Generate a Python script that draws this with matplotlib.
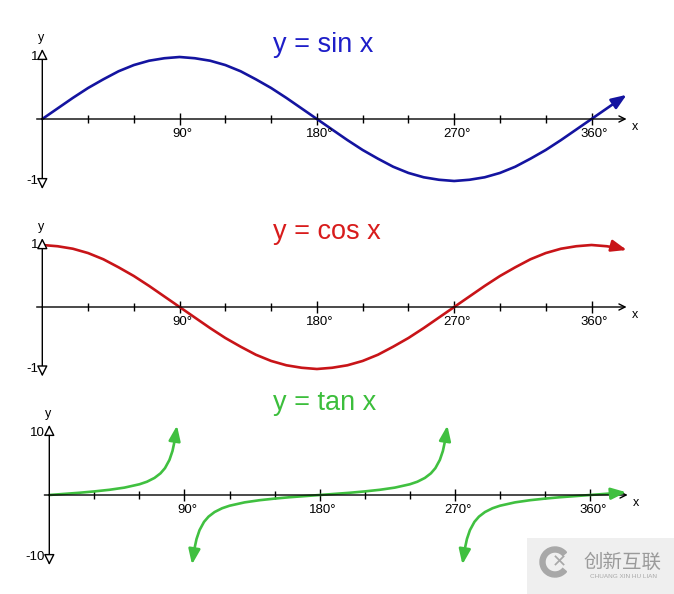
import numpy as np
import matplotlib
matplotlib.use("Agg")
import matplotlib.pyplot as plt
from matplotlib.patches import Wedge

plt.rcParams['font.family'] = ['Liberation Sans', 'DejaVu Sans']

# ---- data ----
deg = [0, 10, 20, 30, 40, 50, 60, 70, 80, 90, 100, 110, 120, 130, 140, 150, 160, 170,
       180, 190, 200, 210, 220, 230, 240, 250, 260, 270, 280, 290, 300, 310, 320, 330,
       340, 350, 360, 370, 380, 383]
sin_vals = [0, .17, .34, .50, .64, .77, .87, .94, .98, 1.0, .98, .94, .87, .77, .64, .50,
            .34, .17, 0, -.17, -.34, -.50, -.64, -.77, -.87, -.94, -.98, -1.0, -.98, -.94,
            -.87, -.77, -.64, -.50, -.34, -.17, 0, .17, .34, .39]
cos_vals = [1.0, .98, .94, .87, .77, .64, .50, .34, .17, 0, -.17, -.34, -.50, -.64, -.77,
            -.87, -.94, -.98, -1.0, -.98, -.94, -.87, -.77, -.64, -.50, -.34, -.17, 0, .17,
            .34, .50, .64, .77, .87, .94, .98, 1.0, .98, .94, .92]

tan1_deg = [0, 10, 20, 30, 40, 50, 60, 65, 70, 74, 77, 80, 82, 83.5, 85]
tan1_val = [0, .18, .36, .58, .84, 1.19, 1.73, 2.14, 2.75, 3.49, 4.33, 5.67, 7.1, 8.8, 11.2]
tan2_deg = [95, 96.5, 98, 100, 103, 106, 110, 115, 120, 130, 140, 150, 160, 170, 180,
            190, 200, 210, 220, 230, 240, 245, 250, 254, 257, 260, 262, 263.5, 265]
tan2_val = [-11.2, -8.8, -7.1, -5.67, -4.33, -3.49, -2.75, -2.14, -1.73, -1.19, -.84, -.58,
            -.36, -.18, 0, .18, .36, .58, .84, 1.19, 1.73, 2.14, 2.75, 3.49, 4.33, 5.67,
            7.1, 8.8, 11.2]
tan3_deg = [275, 276.5, 278, 280, 283, 286, 290, 295, 300, 310, 320, 330, 340, 350, 360,
            370, 380, 384]
tan3_val = [-11.2, -8.8, -7.1, -5.67, -4.33, -3.49, -2.75, -2.14, -1.73, -1.19, -.84, -.58,
            -.36, -.18, 0, .18, .36, .45]

tick_deg = [30, 60, 90, 120, 150, 180, 210, 240, 270, 300, 330, 360]
major_deg = [90, 180, 270, 360]
major_lab = ["90°", "180°", "270°", "360°"]

W, H = 674, 594
fig = plt.figure(figsize=(W / 100, H / 100), dpi=100)
fig.patch.set_facecolor("white")


def panel(x0, sx, y0, sy, top, bottom):
    # x0,y0: pixel of origin; sx,sy: pixels per data unit; top/bottom: pixel band
    ax = fig.add_axes([0, 1 - bottom / H, 1, (bottom - top) / H])
    ax.set_xlim(-x0 / sx, (W - x0) / sx)
    ax.set_ylim((y0 - bottom) / sy, (y0 - top) / sy)
    ax.axis("off")
    return ax


def frame(ax, xa, xb, ya, yb, labs, lab_pos):
    # x axis with open arrow
    ax.annotate("", xy=(xb, 0), xytext=(xa, 0),
                arrowprops=dict(arrowstyle="->", color="black", lw=1.0,
                                shrinkA=0, shrinkB=0, mutation_scale=11))
    # y axis with outlined triangles both ends
    for tip in (ya, yb):
        ax.annotate("", xy=(0, tip), xytext=(0, 0),
                    arrowprops=dict(arrowstyle="-|>", fc="white", ec="black", lw=1.0,
                                    shrinkA=0, shrinkB=0, mutation_scale=16))
    minor = [d for d in tick_deg if d not in major_deg]
    ax.plot(minor, [0] * len(minor), ls="none", marker="|", ms=6, mew=1, color="black")
    ax.plot(major_deg, [0] * len(major_deg), ls="none", marker="|", ms=8, mew=1, color="black")
    for d, lab in zip(major_deg, major_lab):
        ax.annotate(lab, (d, 0), xytext=(2, -11), textcoords="offset points",
                    ha="center", va="center", fontsize=9.5)
    ax.annotate("x", (xb, 0), xytext=(4, -6), textcoords="offset points",
                ha="left", va="center", fontsize=9)
    ax.annotate("y", (0, ya), xytext=(-1, 8), textcoords="offset points",
                ha="center", va="center", fontsize=9)
    for lab, pos in zip(labs, lab_pos):
        ax.annotate(lab, (0, pos), xytext=(-3, 0), textcoords="offset points",
                    ha="right", va="center", fontsize=9.5)


def head(ax, tip, tail, color):
    ax.annotate("", xy=tip, xytext=tail,
                arrowprops=dict(arrowstyle="-|>,head_length=0.9,head_width=0.35",
                                color=color, lw=1.9, shrinkA=0, shrinkB=0,
                                mutation_scale=10))


def curve(ax, xs, ys, color, start_arrow=False):
    i0 = 1 if start_arrow else 0
    ax.plot(xs[i0:-1], ys[i0:-1], color=color, lw=1.9, solid_capstyle="round",
            solid_joinstyle="round")
    head(ax, (xs[-1], ys[-1]), (xs[-2], ys[-2]), color)
    if start_arrow:
        head(ax, (xs[0], ys[0]), (xs[1], ys[1]), color)


# sin panel
ax1 = panel(42.3, 137.3 / 90, 119, 62, 0, 200)
frame(ax1, -3.7, 383, 1.13, -1.13, ["1", "-1"], [1, -1])
curve(ax1, deg, sin_vals, "#1414a0")
ax1.text(184, 1.19, "y = sin x", color="#1e1ec8", fontsize=19.5, ha="center", va="center")

# cos panel
ax2 = panel(42.3, 137.3 / 90, 307, 62, 200, 390)
frame(ax2, -3.7, 383, 1.11, -1.12, ["1", "-1"], [1, -1])
curve(ax2, deg, cos_vals, "#c81418")
ax2.text(186.6, 1.21, "y = cos x", color="#d81c1c", fontsize=19.5, ha="center", va="center")

# tan panel
ax3 = panel(49.3, 135.2 / 90, 495, 6.2, 390, 594)
frame(ax3, -3.3, 385, 11.3, -11.3, ["10", "-10"], [10, -10])
curve(ax3, tan1_deg, tan1_val, "#40c040")
curve(ax3, tan2_deg, tan2_val, "#40c040", start_arrow=True)
curve(ax3, tan3_deg, tan3_val, "#40c040", start_arrow=True)
ax3.text(183.5, 14.8, "y = tan x", color="#3cbe3c", fontsize=19.5, ha="center", va="center")

# watermark in the lower right corner
wm = fig.add_axes([527 / W, 0, 147 / W, 56 / H])
wm.set_facecolor("#efefef")
wm.set_xlim(0, 147)
wm.set_ylim(0, 56)
wm.set_xticks([])
wm.set_yticks([])
for s in wm.spines.values():
    s.set_visible(False)
wm.add_patch(Wedge((28, 32), 15, 40, 320, width=5, color="#a8a8a8"))
wm.text(32, 32, "✕", fontsize=13, color="#a8a8a8", ha="center", va="center",
        family=["DejaVu Sans"], fontweight="bold")
wm.text(95, 32, "创新互联", fontsize=14, color="#9a9a9a", ha="center", va="center",
        family=["Noto Sans CJK SC", "DejaVu Sans"])
wm.text(96, 17, "CHUANG XIN HU LIAN", fontsize=4.6, color="#a8a8a8", ha="center", va="center")

fig.savefig("out.png", dpi=100, facecolor="white")
